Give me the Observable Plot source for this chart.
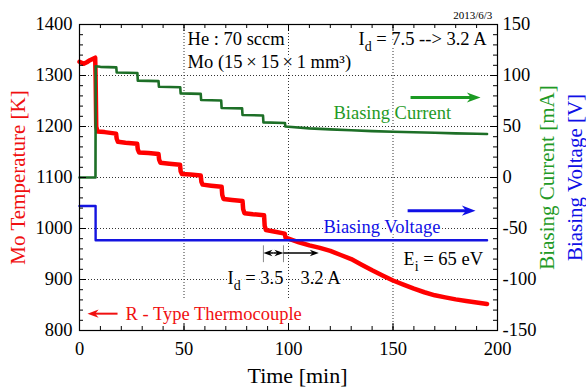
<!DOCTYPE html>
<html><head><meta charset="utf-8">
<script src="https://cdn.jsdelivr.net/npm/d3@7"></script>
<script src="https://cdn.jsdelivr.net/npm/@observablehq/plot@0.6"></script>
<style>
body{margin:0;background:#fff;font-family:"Liberation Serif",serif}
</style>
</head><body><div id="c"></div>
<script>
// ---- Data ----
// Mo temperature [K] vs time [min]
const tempTime = [0, 1, 2, 3.5, 5, 6.5, 7.5, 7.7, 8.0, 8.6, 12, 17.5, 17.8, 18.4, 22, 27.6, 27.9, 28.5, 33, 37.8, 38.1, 38.7, 43, 48.1, 48.4, 49, 53, 58, 58.3, 58.9, 63, 68, 68.3, 68.9, 73, 78, 78.3, 78.9, 83, 88.3, 88.6, 89.2, 93, 98.2, 98.6, 100, 105, 110, 115, 120, 125, 130, 135, 140, 145, 150, 155, 160, 165, 170, 175, 180, 185, 190, 195];
const tempK = [1327, 1325, 1323, 1326, 1330, 1333, 1335, 1300, 1200, 1190, 1189, 1186, 1176, 1170, 1168, 1166, 1155, 1149, 1148, 1146, 1135, 1129, 1127, 1125, 1112, 1107, 1106, 1104, 1092, 1086, 1084, 1082, 1066, 1058, 1056, 1054, 1038, 1030, 1028, 1026, 1005, 997, 994, 990, 982, 980, 973, 967, 962, 956, 948, 940, 929, 918, 908, 898, 890, 882, 875, 869, 865, 861, 858, 855, 852];
// Biasing current [mA]
const curTime = [0, 7.65, 7.75, 10, 17.6, 17.8, 27.7, 27.9, 37.8, 38.0, 48.2, 48.4, 58.0, 58.2, 67.8, 68.0, 77.8, 78.0, 87.8, 88.0, 98.3, 98.5, 100, 110, 120, 130, 140, 150, 160, 170, 180, 190, 195];
const curMA = [0, 0, 109, 108.5, 108, 103, 102.5, 95, 94.5, 89, 88.5, 82.5, 82, 76, 75.5, 68.2, 67.8, 61.3, 60.8, 54, 53.5, 50, 49.8, 48.2, 47.2, 46.3, 45.5, 44.9, 44.3, 43.8, 43.3, 42.9, 42.6];
// Biasing voltage [V]
const voltTime = [0, 7.7, 7.72, 195];
const voltV = [-28, -28, -61.5, -61.5];
// Tick labels
const leftTicks = [800, 900, 1000, 1100, 1200, 1300, 1400];
const rightTicks = [-150, -100, -50, 0, 50, 100, 150];
const xTicks = [0, 50, 100, 150, 200];
// Annotations
const noteText = ["He : 70 sccm", "Mo (15\u2009×\u200915\u2009×\u20091 mm³)", "I_d = 7.5 --> 3.2 A", "Biasing Current", "Biasing Voltage", "E_i = 65 eV", "I_d = 3.5", "3.2 A", "R - Type Thermocouple"];
const noteX = [51.7, 51.7, 133.5, 121.5, 116.7, 155, 70.8, 105.7, 22];
const noteY = [1372, 1327, 1372, 1227, 1003, 940, 903, 903, 833];
const noteColor = ["black", "black", "black", "#1f9a26", "#1010e6", "black", "black", "black", "#f01010"];

// ---- Layout ----
const W = 586, H = 390, mL = 79, mR = 89, mT = 24, mB = 60;
const pw = W - mL - mR, ph = H - mT - mB;
const toK = v => 1100 + 2 * v; // right axis (mA / V) onto left axis (K)
const green = "#1d6f27", blue = "#1414e0", red = "#ff0000";
const serif = "Liberation Serif";

const temp = tempTime.map((t, i) => ({t, k: tempK[i]}));
const cur = curTime.map((t, i) => ({t, k: toK(curMA[i])}));
const volt = voltTime.map((t, i) => ({t, k: toK(voltV[i])}));
const notes = noteText.map((s, i) => ({s, x: noteX[i], y: noteY[i], c: noteColor[i]}));

const arrows = [
  {x1: 158.4, x2: 191.9, y: 1257, c: "#1a9a22", w: 3, r: 6.5},
  {x1: 157, x2: 189.5, y: 1035, c: "#1010e6", w: 3, r: 6.5},
  {x1: 18.2, x2: 3.8, y: 833, c: "#f01010", w: 2, r: 4.3},
  {x1: 92.8, x2: 88.0, y: 952, c: "black", w: 1.5, r: 2.8},
  {x1: 92.8, x2: 97.6, y: 952, c: "black", w: 1.5, r: 2.8},
  {x1: 97.6, x2: 114.5, y: 952, c: "black", w: 1.5, r: 2.8}
];
const bars = [{x: 88.0, y1: 933, y2: 966}, {x: 97.6, y1: 933, y2: 966}];

const arrowHead = {
  draw(ctx, size) {
    const r = Math.sqrt(size / Math.PI);
    const L = 3 * r, w = 1.1 * r;
    ctx.moveTo(0, 0); ctx.lineTo(-L, -w); ctx.lineTo(-0.7 * L, 0); ctx.lineTo(-L, w); ctx.closePath();
  }
};

const gridStyle = {stroke: "#333", strokeOpacity: 1, strokeDasharray: "1,2", strokeWidth: 1};
const fs = 18.5;

const chart = Plot.plot({
  width: W, height: H,
  marginLeft: mL, marginRight: mR, marginTop: mT, marginBottom: mB,
  x: {domain: [0, 200]},
  y: {domain: [800, 1400]},
  style: {background: "white", color: "black", overflow: "visible"},
  marks: [
    Plot.gridY([900, 1000, 1100, 1200, 1300], gridStyle),
    Plot.gridX([50, 100], {...gridStyle, insetBottom: 30}),
    Plot.gridX([150], gridStyle),
    // annotation texts
    Plot.text(notes, {x: "x", y: "y", text: "s", fill: "c", textAnchor: "start", fontSize: 18.5, stroke: "white", strokeWidth: 4}),
    Plot.text(["2013/6/3"], {x: [197.5], y: [1418], text: d => d, textAnchor: "end", fontSize: 11}),
    // gray bars for I_d 3.5 interval
    Plot.ruleX(bars, {x: "x", y1: "y1", y2: "y2", stroke: "#888", strokeWidth: 1}),
    // data
    Plot.line(temp, {x: "t", y: "k", stroke: red, strokeWidth: 4.5}),
    Plot.line(cur, {x: "t", y: "k", stroke: green, strokeWidth: 2.6}),
    Plot.line(volt, {x: "t", y: "k", stroke: blue, strokeWidth: 2.4}),
    // arrows
    Plot.link(arrows, {x1: "x1", x2: d => d.x2 + (d.x2 > d.x1 ? -1 : 1) * d.r * 0.6, y1: "y", y2: "y", stroke: "c", strokeWidth: "w"}),
    Plot.dot(arrows, {x: "x2", y: "y", r: "r", symbol: arrowHead, fill: "c", stroke: "none", rotate: d => d.x2 > d.x1 ? 0 : 180}),
    // inward ticks
    Plot.ruleY(d3.range(800, 1401, 20), {insetRight: pw - 4, stroke: "black"}),
    Plot.ruleY(leftTicks, {insetRight: pw - 7, stroke: "black"}),
    Plot.ruleY(d3.range(800, 1401, 20), {insetLeft: pw - 4, stroke: "black"}),
    Plot.ruleY(leftTicks, {insetLeft: pw - 7, stroke: "black"}),
    Plot.ruleX(d3.range(0, 201, 10), {insetTop: ph - 4, stroke: "black"}),
    Plot.ruleX(xTicks, {insetTop: ph - 7, stroke: "black"}),
    Plot.ruleX(d3.range(0, 201, 10), {insetBottom: ph - 4, stroke: "black"}),
    Plot.ruleX(xTicks, {insetBottom: ph - 7, stroke: "black"}),
    Plot.frame({stroke: "black", strokeWidth: 1.2}),
    // axis labels
    Plot.axisY(leftTicks, {anchor: "left", tickSize: 0, tickPadding: 7, label: null, fontSize: fs, tickFormat: d => String(d)}),
    Plot.axisY(rightTicks.map(toK), {anchor: "right", tickSize: 0, tickPadding: 5, label: null, fontSize: fs, tickFormat: d => String((d - 1100) / 2)}),
    Plot.axisX(xTicks, {anchor: "bottom", tickSize: 0, tickPadding: 11, label: null, fontSize: fs, tickFormat: d => String(d)}),
    // axis titles
    Plot.text(["Mo Temperature [K]"], {text: d => d, frameAnchor: "left", textAnchor: "middle", lineAnchor: "middle", dx: -61, rotate: -90, fill: "#f01010", fontSize: 21}),
    Plot.text(["Biasing Current [mA]"], {text: d => d, frameAnchor: "right", textAnchor: "middle", lineAnchor: "middle", dx: 50, rotate: -90, fill: "#1f9a26", fontSize: 21}),
    Plot.text(["Biasing Voltage [V]"], {text: d => d, frameAnchor: "right", textAnchor: "middle", lineAnchor: "middle", dx: 78, rotate: -90, fill: "#1010e6", fontSize: 21}),
    Plot.text(["Time [min]"], {text: d => d, frameAnchor: "bottom", textAnchor: "middle", lineAnchor: "middle", dy: 45, dx: 9, fontSize: 22})
  ]
});

// font on every text element, set directly
chart.setAttribute("font-family", serif);
chart.style.fontFamily = serif;
d3.select(chart).selectAll("g").attr("font-family", null);
d3.select(chart).selectAll("text").attr("font-family", serif).style("font-family", serif);

// subscripts: "X_s" -> X with subscript s
d3.select(chart).selectAll("text").each(function() {
  const t = this.textContent;
  const m = t.match(/^(.*?)_(\w)(.*)$/);
  if (!m) return;
  const s = d3.select(this);
  s.text(null);
  s.append("tspan").text(m[1]);
  s.append("tspan").attr("dy", 6).attr("font-size", 14).text(m[2]);
  s.append("tspan").attr("dy", -6).text(m[3]);
});

document.getElementById("c").appendChild(chart);
</script>
</body></html>
